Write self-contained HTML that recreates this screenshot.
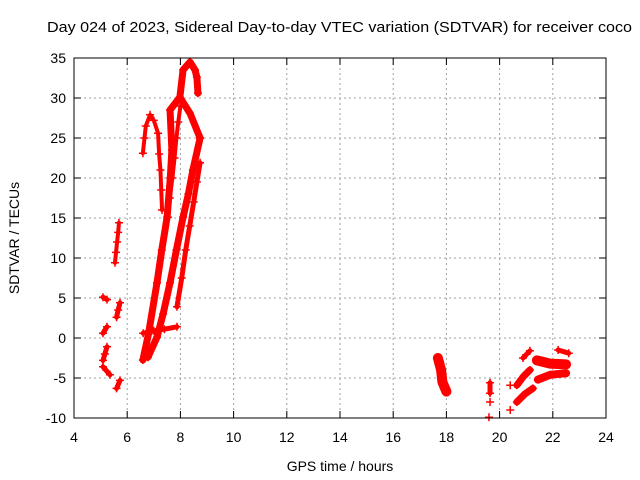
<!DOCTYPE html>
<html><head><meta charset="utf-8"><style>
body{margin:0;background:#fff}
svg{display:block;font-family:"Liberation Sans",sans-serif}
</style></head><body>
<svg id="chart" width="640" height="480">
<rect width="640" height="480" fill="#fff"/>
<text x="47" y="32" font-size="15" textLength="585" lengthAdjust="spacingAndGlyphs">Day 024 of 2023, Sidereal Day-to-day VTEC variation (SDTVAR) for receiver coco</text>
<g id="grid"></g>
<g id="series"></g>
<rect x="74" y="58" width="532" height="360" fill="none" stroke="#000" stroke-width="1"/>
<g id="axes"></g>
<text x="340" y="471" font-size="14" text-anchor="middle">GPS time / hours</text>
<text transform="translate(19,238) rotate(-90)" font-size="14" text-anchor="middle">SDTVAR / TECUs</text>
</svg>
<script>
const xTicks=[4,6,8,10,12,14,16,18,20,22,24];
const yTicks=[-10,-5,0,5,10,15,20,25,30,35];
const trackA=[[6.59,23.1],[6.65,25],[6.7,26.5],[6.86,27.9],[7.0,27.2],[7.16,25.6],[7.2,23],[7.25,21],[7.28,18.5],[7.31,16.0]];
const trackLoopUp=[[6.59,-2.75],[6.8,0.5],[7.12,6.9],[7.3,11],[7.5,15.1],[7.62,20],[7.68,23.5],[7.61,28.5],[7.98,30.1]];
const trackPeak=[[7.98,30.1],[8.1,33.5],[8.36,34.5],[8.55,33.5],[8.62,32.6],[8.66,30.6]];
const trackLoopDown=[[7.98,30.1],[8.36,28.1],[8.74,25],[8.47,21],[8.3,18],[8.1,15.1],[7.85,11],[7.61,6.9],[7.35,3],[7.12,0.1],[6.78,-2.4]];
const trackFlat=[[6.6,0.6],[7.0,0.9],[7.4,1.1],[7.87,1.4]];
const trackTrail1=[[8.0,29],[7.92,27],[7.85,25],[7.78,22.5],[7.7,20],[7.6,17.5],[7.53,15.1]];
const trackRight=[[8.74,21.9],[8.62,19.5],[8.5,17],[8.35,14],[8.2,11],[8.05,7.5],[7.87,3.9]];
const small1=[[5.69,14.4],[5.66,13.2],[5.62,12],[5.58,10.7],[5.54,9.4]];
const small2=[[5.09,5.1],[5.24,4.8]];
const small3=[[5.73,4.4],[5.66,3.5],[5.6,2.6]];
const small4=[[5.24,1.4],[5.09,0.6]];
const small5=[[5.24,-1.1],[5.16,-2],[5.09,-2.8]];
const small6=[[5.09,-3.6],[5.35,-4.6]];
const small7=[[5.73,-5.3],[5.6,-6.3]];
const c18=[[17.68,-2.5],[17.8,-4.0],[17.85,-5.5],[18.0,-6.7]];
const c195a=[[19.64,-5.6],[19.64,-6.9]];
const c195b=[[19.64,-8.0]];
const c195c=[[19.6,-9.9]];
const c203a=[[20.4,-5.9]];
const c203b=[[20.4,-9.0]];
const c21a=[[20.65,-8.0],[20.95,-7.0],[21.25,-6.3]];
const c21b=[[20.65,-5.9],[20.9,-4.8],[21.14,-4.0]];
const c21c=[[20.88,-2.5],[21.14,-1.6]];
const c22a=[[21.4,-2.8],[21.9,-3.2],[22.5,-3.3]];
const c22b=[[21.44,-5.2],[21.9,-4.6],[22.5,-4.4]];
const c22c=[[22.2,-1.5],[22.6,-1.9]];
const tracks=[trackA,trackLoopUp,trackPeak,trackLoopDown,trackFlat,trackTrail1,trackRight,small1,small2,small3,small4,small5,small6,small7,c18,c195a,c195b,c195c,c203a,c203b,c21a,c21b,c21c,c22a,c22b,c22c];
const widths=[4,7,7,7,5,4,5,4,5,5,5,5,5,5,10,5,3,3,3,3,7,7,5,10,8,5];
const NS="http://www.w3.org/2000/svg";
const X=h=>74+(h-4)*26.6, Y=v=>58+(35-v)*8;
const grid=document.getElementById('grid'),axes=document.getElementById('axes'),ser=document.getElementById('series');
function mk(tag,attrs,parent){const e=document.createElementNS(NS,tag);for(const k in attrs)e.setAttribute(k,attrs[k]);parent.appendChild(e);return e;}
xTicks.forEach(t=>{
 if(t>4&&t<24){const g=mk('line',{x1:X(t),x2:X(t),y1:58,y2:418,stroke:'#a0a0a0','stroke-dasharray':'2,3'},grid);
 
 }
 mk('line',{x1:X(t),x2:X(t),y1:418,y2:411,stroke:'#000'},axes);
 mk('line',{x1:X(t),x2:X(t),y1:58,y2:65,stroke:'#000'},axes);
 const l=mk('text',{x:X(t),y:442,'font-size':14,'text-anchor':'middle'},axes);l.textContent=t;
 
 
});
yTicks.forEach(t=>{
 if(t>-10&&t<35){const g=mk('line',{x1:74,x2:606,y1:Y(t),y2:Y(t),stroke:'#a0a0a0','stroke-dasharray':'2,3'},grid);
 
 }
 mk('line',{x1:74,x2:81,y1:Y(t),y2:Y(t),stroke:'#000'},axes);
 mk('line',{x1:606,x2:599,y1:Y(t),y2:Y(t),stroke:'#000'},axes);
 const l=mk('text',{x:66,y:Y(t)+5,'font-size':14,'text-anchor':'end'},axes);l.textContent=t;
 
 
});
tracks.forEach((tr,i)=>{
 const g=mk('g',{},ser);
 
 
 if(tr.length>1){mk('polyline',{points:tr.map(p=>X(p[0])+','+Y(p[1])).join(' '),fill:'none',stroke:'#f00','stroke-width':widths[i],'stroke-linejoin':'round','stroke-linecap':'round'},g);}
 tr.forEach(p=>{const x=X(p[0]),y=Y(p[1]);
  mk('path',{d:`M${x-4},${y}H${x+4}M${x},${y-4}V${y+4}`,stroke:'#f00','stroke-width':1.5},g);});
});
</script>
</body></html>
